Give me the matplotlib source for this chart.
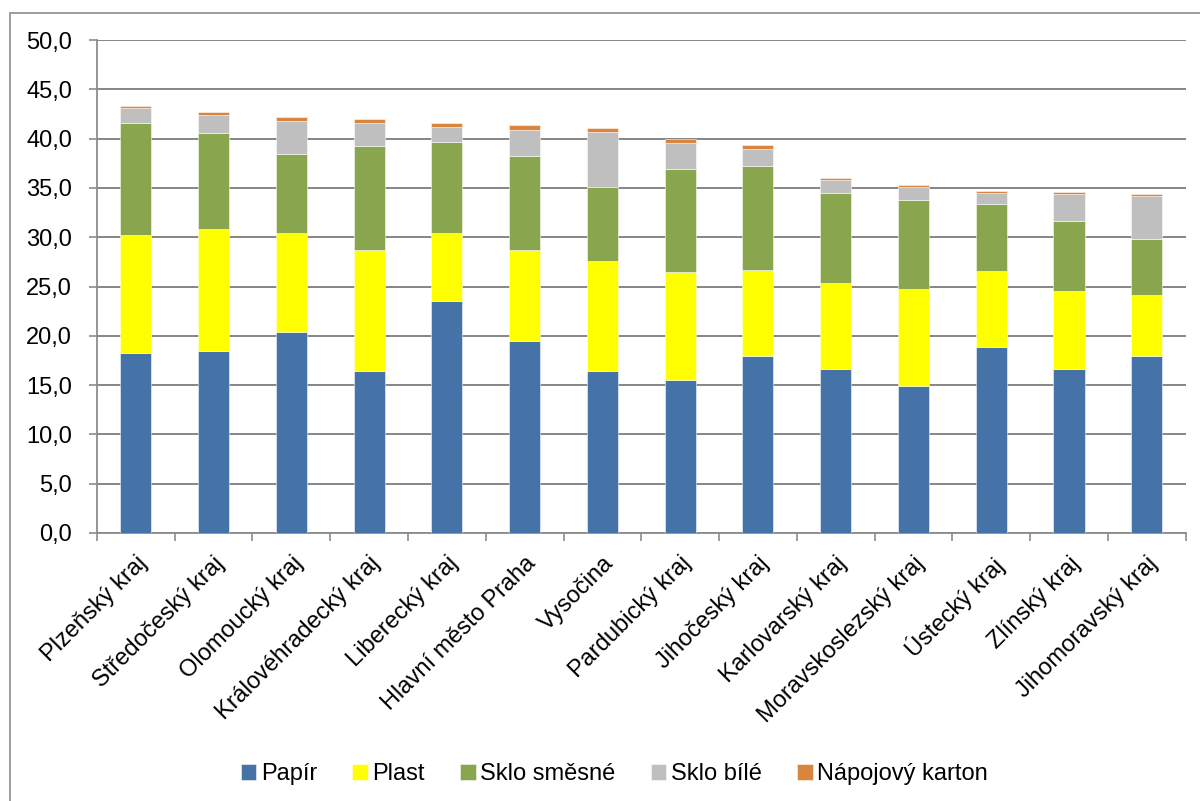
import numpy as np
import matplotlib
matplotlib.use('Agg')
import matplotlib.pyplot as plt
from matplotlib.patches import Rectangle

# data
kraje = ['Plzeňský kraj', 'Středočeský kraj', 'Olomoucký kraj', 'Královéhradecký kraj',
         'Liberecký kraj', 'Hlavní město Praha', 'Vysočina', 'Pardubický kraj',
         'Jihočeský kraj', 'Karlovarský kraj', 'Moravskoslezský kraj', 'Ústecký kraj',
         'Zlínský kraj', 'Jihomoravský kraj']
papir = [18.3, 18.5, 20.4, 16.4, 23.5, 19.5, 16.4, 15.5, 18.0, 16.6, 14.9, 18.9, 16.6, 18.0]
plast = [11.9, 12.3, 10.0, 12.3, 6.9, 9.2, 11.2, 11.0, 8.65, 8.75, 9.8, 7.65, 7.9, 6.15]
sklo_smesne = [11.4, 9.8, 8.0, 10.6, 9.3, 9.5, 7.45, 10.4, 10.6, 9.1, 9.05, 6.85, 7.15, 5.65]
sklo_bile = [1.55, 1.75, 3.4, 2.3, 1.5, 2.7, 5.65, 2.7, 1.7, 1.4, 1.35, 1.1, 2.7, 4.4]
karton = [0.17, 0.35, 0.4, 0.35, 0.37, 0.5, 0.37, 0.36, 0.36, 0.17, 0.17, 0.2, 0.2, 0.17]

series = [('Papír', papir, '#4572A7'),
          ('Plast', plast, '#FFFF00'),
          ('Sklo směsné', sklo_smesne, '#89A54E'),
          ('Sklo bílé', sklo_bile, '#BFBFBF'),
          ('Nápojový karton', karton, '#DB843D')]

plt.rcParams['font.family'] = ['Liberation Sans', 'DejaVu Sans']
plt.rcParams['font.size'] = 17

fig = plt.figure(figsize=(12, 8.01), dpi=100)
ax = fig.add_axes([0.0808, 0.3346, 0.9072, 0.6154])

# outer chart frame
fig.patches.append(Rectangle((10 / 1200, -0.01), 1.5, 1 - 13 / 801 + 0.01,
                             transform=fig.transFigure, fill=False,
                             edgecolor='#8c8c8c', lw=1.2))

x = np.arange(len(kraje))
bottom = np.zeros(len(kraje))
for name, vals, col in series:
    ax.bar(x, vals, 0.4, bottom=bottom, color=col, label=name,
           edgecolor=(1, 1, 1, 0.6), linewidth=0.6, zorder=3)
    bottom += np.array(vals)

ax.set_xlim(-0.5, len(kraje) - 0.5)
ax.set_ylim(0, 50)
ax.set_yticks(np.arange(0, 50.1, 5))
ax.set_yticklabels([('%.1f' % v).replace('.', ',') for v in np.arange(0, 50.1, 5)])
ax.yaxis.grid(True, color='#868686', lw=1.4, zorder=0)

ax.set_xticks(x)
ax.set_xticklabels(kraje, rotation=45, ha='right', rotation_mode='anchor')
ax.set_xticks(np.arange(-0.5, len(kraje)), minor=True)
ax.tick_params(axis='x', which='major', length=0, pad=14)
ax.tick_params(axis='x', which='minor', length=6, color='#8c8c8c', width=1.2)
ax.tick_params(axis='y', length=6, color='#8c8c8c', width=1.2, pad=12)

for s in ['top', 'right']:
    ax.spines[s].set_visible(False)
for s in ['left', 'bottom']:
    ax.spines[s].set_color('#8c8c8c')
    ax.spines[s].set_linewidth(1.3)

fig.legend(loc='center', bbox_to_anchor=(0.512, 1 - 774 / 801), ncol=5, frameon=False,
           fontsize=17, handlelength=0.65, handleheight=0.65, handletextpad=0.2,
           columnspacing=1.5)

plt.savefig('out.png', dpi=100)
